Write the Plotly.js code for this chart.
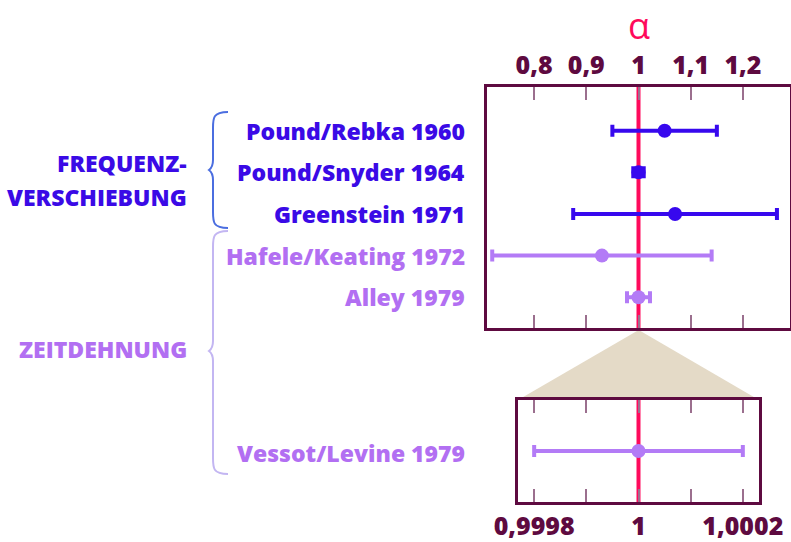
<!DOCTYPE html>
<html><head><meta charset="utf-8">
<script src="https://cdn.plot.ly/plotly-3.0.1.min.js"></script>
<style>html,body{margin:0;padding:0;background:#fff}#c{width:791px;height:542px}</style>
</head><body><div id="c"></div>
<script>
// ---- data ----
const labels = ['Pound/Rebka 1960','Pound/Snyder 1964','Greenstein 1971','Hafele/Keating 1972','Alley 1979'];
const alpha  = [1.05, 1.0, 1.07, 0.93, 1.0];
const errs   = [0.10, 0.01, 0.195, 0.21, 0.022];
const groupOf = ['F','F','F','Z','Z'];
const rowPos = [5, 4, 3, 2, 1];
const vLabel = ['Vessot/Levine 1979'];
const vAlpha = [1.0];
const vErr   = [0.0002];
const vRow   = [0];
const topTicks = [0.8, 0.9, 1, 1.1, 1.2];
const topTickText = ['0,8','0,9','1','1,1','1,2'];
const botTicks = [0.9998, 0.9999, 1, 1.0001, 1.0002];
const botTickText = ['0,9998','','1','','1,0002'];
const groupNames = {F:['FREQUENZ-','VERSCHIEBUNG'], Z:['ZEITDEHNUNG']};

// ---- styles ----
const W = 791, H = 542;
const X = p => p / W, Y = p => 1 - p / H;
const BLUE = '#3708ee', PURP = '#b37bf6';
const BLUE_T = '#3a0ae6', PURP_T = '#b26ff2';
const DARK = '#5e0a40', TICK = '#9b6f8e', RED = '#ff0a5c';
const FONT = '"Open Sans", Lato, sans-serif';

function sel(arr, g){ return arr.filter((_, i) => groupOf[i] === g); }

const traces = [];
[['F', BLUE], ['Z', PURP]].forEach(([g, col]) => {
  traces.push({
    type: 'scatter', mode: 'markers', xaxis: 'x', yaxis: 'y',
    x: sel(alpha, g), y: sel(rowPos, g),
    marker: {color: col, size: 14},
    error_x: {type: 'data', array: sel(errs, g), color: col, thickness: 4, width: 6},
    hoverinfo: 'skip', showlegend: false
  });
});
traces.push({
  type: 'scatter', mode: 'markers', xaxis: 'x2', yaxis: 'y2',
  x: vAlpha, y: vRow,
  marker: {color: PURP, size: 14},
  error_x: {type: 'data', array: vErr, color: PURP, thickness: 4, width: 6},
  hoverinfo: 'skip', showlegend: false
});

const axBase = {
  showline: true, linewidth: 3, linecolor: DARK, mirror: 'allticks',
  ticks: 'inside', ticklen: 13, tickwidth: 2, tickcolor: TICK,
  showgrid: false, zeroline: false, fixedrange: true,
  tickfont: {family: FONT, size: 25, color: DARK, weight: 800}
};
const yBase = {showline: true, linewidth: 3, linecolor: DARK, mirror: true,
  ticks: '', showticklabels: false, showgrid: false, zeroline: false, fixedrange: true};

const LF = 23;
const annotations = [];
labels.forEach((t, i) => {
  annotations.push({xref: 'paper', yref: 'y', x: X(467), y: rowPos[i], text: t,
    xanchor: 'right', yanchor: 'middle', showarrow: false,
    font: {family: FONT, size: LF, weight: 800, color: groupOf[i] === 'F' ? BLUE_T : PURP_T}});
});
annotations.push({xref: 'paper', yref: 'y2', x: X(467), y: vRow[0], text: vLabel[0],
  xanchor: 'right', yanchor: 'middle', yshift: -2, showarrow: false,
  font: {family: FONT, size: LF, weight: 800, color: PURP_T}});
annotations.push({xref: 'paper', yref: 'paper', x: X(189), y: Y(163), text: groupNames.F[0],
  xanchor: 'right', yanchor: 'middle', showarrow: false,
  font: {family: FONT, size: LF, weight: 800, color: BLUE_T}});
annotations.push({xref: 'paper', yref: 'paper', x: X(189), y: Y(197), text: groupNames.F[1],
  xanchor: 'right', yanchor: 'middle', showarrow: false,
  font: {family: FONT, size: LF, weight: 800, color: BLUE_T}});
annotations.push({xref: 'paper', yref: 'paper', x: X(189), y: Y(349), text: groupNames.Z[0],
  xanchor: 'right', yanchor: 'middle', showarrow: false,
  font: {family: FONT, size: LF, weight: 800, color: PURP_T}});
annotations.push({xref: 'x', yref: 'paper', x: 1, y: Y(25), text: 'α',
  xanchor: 'center', yanchor: 'middle', showarrow: false,
  font: {family: FONT, size: 36, color: RED}});

function pp(pts){ return 'M' + pts.map(p => X(p[0]) + ',' + Y(p[1])).join(' L') + ' Z'; }
function brace(x0, xt, y0, yt, y1){
  const xm = xt + 4;
  return `M${X(x0)},${Y(y0)} C${X(xm)},${Y(y0)} ${X(xm)},${Y(y0+6)} ${X(xm)},${Y(y0+16)} ` +
    `L${X(xm)},${Y(yt-10)} C${X(xm)},${Y(yt-3)} ${X(xt)},${Y(yt)} ${X(xt)},${Y(yt)} ` +
    `C${X(xt)},${Y(yt)} ${X(xm)},${Y(yt+3)} ${X(xm)},${Y(yt+10)} ` +
    `L${X(xm)},${Y(y1-16)} C${X(xm)},${Y(y1-6)} ${X(xm)},${Y(y1)} ${X(x0)},${Y(y1)}`;
}

const shapes = [
  {type: 'path', xref: 'paper', yref: 'paper', path: pp([[638.7, 330], [518, 400], [759, 400]]),
   fillcolor: '#e4dac7', line: {width: 0}, layer: 'below'},
  {type: 'line', xref: 'x', yref: 'y domain', x0: 1, x1: 1, y0: 0, y1: 1, line: {color: RED, width: 4}, layer: 'below'},
  {type: 'line', xref: 'x2', yref: 'y2 domain', x0: 1, x1: 1, y0: 0, y1: 1, line: {color: RED, width: 4}, layer: 'below'},
  {type: 'path', xref: 'paper', yref: 'paper', path: brace(228, 209, 112, 170, 228), line: {color: '#4b6ee0', width: 2}},
  {type: 'path', xref: 'paper', yref: 'paper', path: brace(228, 209, 231, 351, 474), line: {color: '#c3b6f2', width: 2}}
];

const layout = {
  width: W, height: H, margin: {l: 0, r: 0, t: 0, b: 0},
  paper_bgcolor: '#fff', plot_bgcolor: 'rgba(0,0,0,0)',
  xaxis: Object.assign({}, axBase, {domain: [X(487), X(790)], range: [0.71, 1.29], side: 'top', anchor: 'y',
    tickvals: topTicks, ticktext: topTickText}),
  yaxis: Object.assign({}, yBase, {domain: [Y(328), Y(87)], range: [0.26, 6.05], anchor: 'x'}),
  xaxis2: Object.assign({}, axBase, {domain: [X(518), X(759)], range: [0.999769, 1.000231], side: 'bottom', anchor: 'y2',
    tickvals: botTicks, ticktext: botTickText}),
  yaxis2: Object.assign({}, yBase, {domain: [Y(502), Y(400)], range: [-1, 1], anchor: 'x2'}),
  annotations, shapes
};
Plotly.newPlot('c', traces, layout, {displayModeBar: false, staticPlot: true});
</script></body></html>
